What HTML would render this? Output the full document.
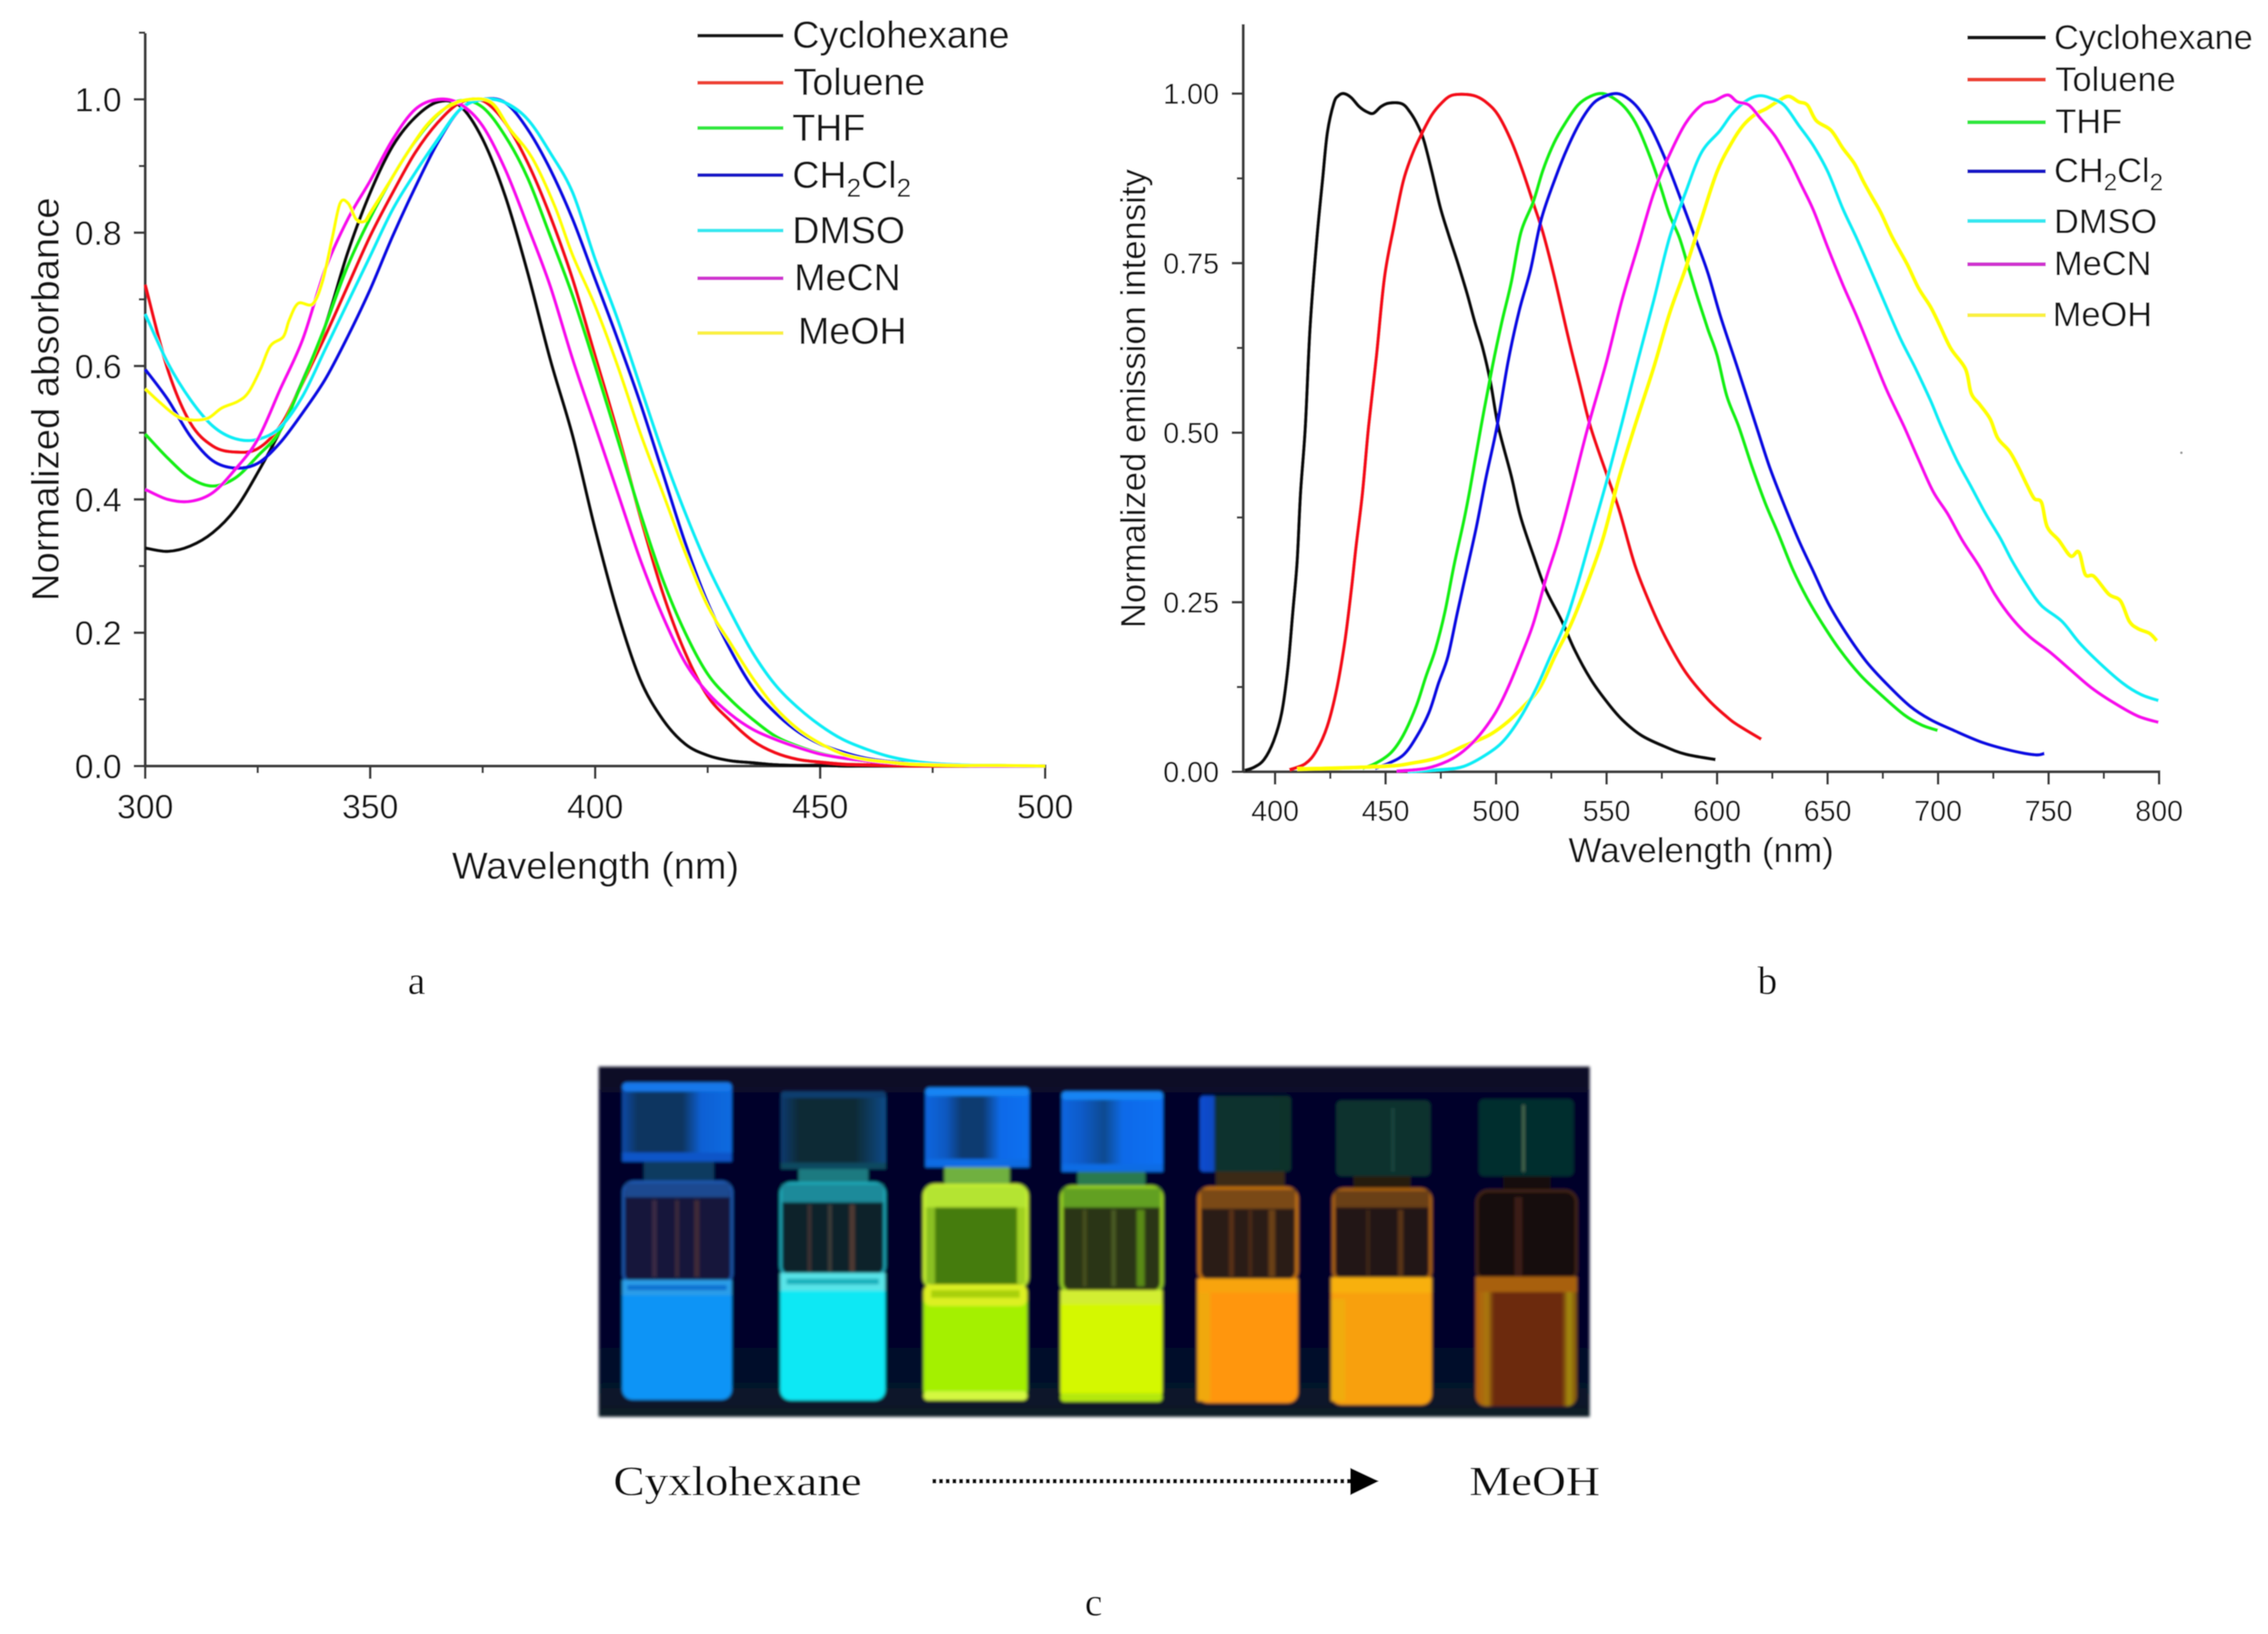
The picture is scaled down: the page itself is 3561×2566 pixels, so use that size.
<!DOCTYPE html>
<html lang="en">
<head>
<meta charset="utf-8">
<title>Absorbance and emission spectra in solvents</title>
<style>
html,body{margin:0;padding:0;background:#fff;}
svg{display:block;}
text{font-family:"Liberation Sans",sans-serif;fill:#141414;}
.serif{font-family:"Liberation Serif",serif;fill:#111;}
</style>
</head>
<body>
<svg id="figure" xmlns="http://www.w3.org/2000/svg" width="3561" height="2566" viewBox="0 0 3561 2566">
<defs>
<filter id="soft" filterUnits="userSpaceOnUse" x="0" y="0" width="3561" height="2566"><feGaussianBlur stdDeviation="0.9"/></filter>
<filter id="photoBlur" filterUnits="userSpaceOnUse" x="900" y="1650" width="1650" height="600"><feGaussianBlur stdDeviation="2.4"/></filter>
<linearGradient id="photoBg" x1="0" x2="0" y1="0" y2="1"><stop offset="0" stop-color="#0a0a26"/><stop offset=".1" stop-color="#05052a"/><stop offset=".8" stop-color="#04062a"/><stop offset="1" stop-color="#081c28"/></linearGradient>
<linearGradient id="capV1" x1="0" x2="1" y1="0" y2="0"><stop offset="0" stop-color="#0a4aa8"/><stop offset=".14" stop-color="#0a3560"/><stop offset=".55" stop-color="#0a3560"/><stop offset=".72" stop-color="#0a60d4"/><stop offset="1" stop-color="#0a6ae0"/></linearGradient>
<linearGradient id="capV2" x1="0" x2="1" y1="0" y2="0"><stop offset="0" stop-color="#0a3a70"/><stop offset=".18" stop-color="#0a2a34"/><stop offset=".7" stop-color="#0a2a34"/><stop offset="1" stop-color="#0a4a88"/></linearGradient>
<linearGradient id="capV3" x1="0" x2="1" y1="0" y2="0"><stop offset="0" stop-color="#0a66e0"/><stop offset=".2" stop-color="#0a58c0"/><stop offset=".35" stop-color="#0a3a70"/><stop offset=".55" stop-color="#0a3a70"/><stop offset=".72" stop-color="#0a6ae8"/><stop offset="1" stop-color="#0a70f0"/></linearGradient>
<linearGradient id="capV4" x1="0" x2="1" y1="0" y2="0"><stop offset="0" stop-color="#0a66e0"/><stop offset=".2" stop-color="#0a5ac8"/><stop offset=".42" stop-color="#0a4a90"/><stop offset=".6" stop-color="#0a6ae8"/><stop offset="1" stop-color="#0a70f4"/></linearGradient>
<linearGradient id="capV5" x1="0" x2="1" y1="0" y2="0"><stop offset="0" stop-color="#0a4cd0"/><stop offset=".15" stop-color="#0a48c0"/><stop offset=".17" stop-color="#07302e"/><stop offset="1" stop-color="#07302c"/></linearGradient>
<linearGradient id="liqV7" x1="0" x2="1" y1="0" y2="0"><stop offset="0" stop-color="#b05a10"/><stop offset=".12" stop-color="#a8780c"/><stop offset=".18" stop-color="#6c2a10"/><stop offset=".85" stop-color="#6c2a10"/><stop offset=".92" stop-color="#a89008"/><stop offset="1" stop-color="#7a4a10"/></linearGradient>
</defs>
<g filter="url(#soft)">
<rect width="3561" height="2566" fill="#fff"/>

<g id="chartA">
<g id="axesA"></g>
<g id="marksA"></g>
<text x="935" y="1380" font-size="59.5" text-anchor="middle">Wavelength (nm)</text>
<text transform="translate(92,627) rotate(-90)" font-size="60" text-anchor="middle">Normalized absorbance</text>
<g id="legendA" font-size="59">
<text x="1244" y="75">Cyclohexane</text>
<text x="1246" y="149">Toluene</text>
<text x="1244" y="221">THF</text>
<text x="1244" y="295">CH<tspan font-size="41" dy="14">2</tspan><tspan dy="-14">Cl</tspan><tspan font-size="41" dy="14">2</tspan></text>
<text x="1244" y="382">DMSO</text>
<text x="1247" y="456">MeCN</text>
<text x="1253" y="540">MeOH</text>
</g>
</g>

<g id="chartB">
<g id="axesB"></g>
<g id="marksB"></g>
<text x="2671" y="1354" font-size="55" text-anchor="middle">Wavelength (nm)</text>
<text transform="translate(1798,626) rotate(-90)" font-size="54.5" text-anchor="middle">Normalized emission intensity</text>
<g id="legendB" font-size="54">
<text x="3225" y="77">Cyclohexane</text>
<text x="3227" y="143">Toluene</text>
<text x="3227" y="209">THF</text>
<text x="3225" y="286">CH<tspan font-size="38" dy="13">2</tspan><tspan dy="-13">Cl</tspan><tspan font-size="38" dy="13">2</tspan></text>
<text x="3225" y="366">DMSO</text>
<text x="3225" y="432">MeCN</text>
<text x="3223" y="512">MeOH</text>
</g>
<circle cx="3425" cy="711" r="2" fill="#999"/>
</g>

<text class="serif" x="654" y="1561" font-size="62" text-anchor="middle">a</text>
<text class="serif" x="2775" y="1561" font-size="62" text-anchor="middle">b</text>

<g filter="url(#photoBlur)">
<rect x="940" y="1675" width="1556" height="550" fill="url(#photoBg)"/>
<g>
<rect x="1011" y="1820" width="110" height="38" fill="#103a60"/>
<rect x="979" y="1856" width="170" height="160" rx="16" fill="#14163a" stroke="#1a58b0" stroke-width="4"/>
<rect x="982" y="1858" width="164" height="22" fill="#1a4a90"/>
<rect x="1024" y="1885" width="7" height="120" fill="#3a2a44"/><rect x="1060" y="1885" width="6" height="120" fill="#3a2a3a"/><rect x="1090" y="1885" width="8" height="120" fill="#402a38"/>
<rect x="977" y="2010" width="172" height="188" rx="16" fill="#0a94f6"/>
<rect x="977" y="2010" width="172" height="24" fill="#2c9ee8"/><rect x="985" y="2018" width="156" height="8" fill="#0e70d0"/>
<rect x="977" y="1700" width="172" height="124" rx="10" fill="url(#capV1)"/>
<rect x="977" y="1700" width="172" height="14" rx="7" fill="#1478ea"/><rect x="977" y="1810" width="172" height="14" fill="#0a55c8"/>
</g>
<g>
<rect x="1254" y="1832" width="109" height="30" fill="#1a7a80"/>
<rect x="1226" y="1858" width="163" height="146" rx="16" fill="#10202c" stroke="#1ea8b8" stroke-width="4"/>
<rect x="1228" y="1860" width="159" height="28" fill="#1a8a9a"/>
<rect x="1268" y="1892" width="6" height="105" fill="#3a3230"/><rect x="1300" y="1892" width="6" height="105" fill="#3a3a38"/><rect x="1334" y="1892" width="8" height="105" fill="#503a30"/>
<rect x="1225" y="1999" width="165" height="200" rx="16" fill="#08e8f4"/>
<rect x="1225" y="1999" width="165" height="28" fill="#58e4e8"/><rect x="1235" y="2008" width="145" height="9" fill="#18b0bc"/>
<rect x="1226" y="1714" width="165" height="122" rx="10" fill="url(#capV2)"/>
<rect x="1226" y="1714" width="165" height="10" rx="5" fill="#0c3c70"/><rect x="1226" y="1826" width="165" height="10" fill="#0a4a60"/>
</g>
<g>
<rect x="1483" y="1830" width="102" height="36" fill="#70b040"/>
<rect x="1452" y="1862" width="160" height="160" rx="16" fill="#447c10" stroke="#c4ee30" stroke-width="6"/>
<rect x="1454" y="1864" width="156" height="32" fill="#b4e430"/>
<rect x="1454" y="1896" width="14" height="120" fill="#8ac020"/><rect x="1597" y="1896" width="13" height="120" fill="#a0d020"/>
<rect x="1450" y="2017" width="163" height="182" rx="16" fill="#a4f000"/>
<rect x="1450" y="2017" width="163" height="34" rx="12" fill="#dcf020"/><rect x="1462" y="2026" width="139" height="12" fill="#a8d010"/>
<rect x="1450" y="2185" width="163" height="14" rx="7" fill="#d4f840"/>
<rect x="1453" y="1708" width="163" height="125" rx="10" fill="url(#capV3)"/>
<rect x="1453" y="1708" width="163" height="13" rx="6" fill="#1884f4"/><rect x="1453" y="1820" width="163" height="13" fill="#0a6ce4"/>
</g>
<g>
<rect x="1692" y="1836" width="106" height="30" fill="#2a7a50"/>
<rect x="1667" y="1864" width="157" height="166" rx="16" fill="#2a3618" stroke="#98d020" stroke-width="5"/>
<rect x="1669" y="1866" width="153" height="30" fill="#62a020"/>
<rect x="1700" y="1900" width="6" height="120" fill="#46501c"/><rect x="1745" y="1900" width="7" height="120" fill="#4a5a20"/><rect x="1785" y="1900" width="12" height="120" fill="#5a8a18"/>
<rect x="1665" y="2026" width="160" height="175" rx="16" fill="#d4f800"/>
<rect x="1665" y="2026" width="160" height="22" fill="#d2ee30"/><rect x="1665" y="2188" width="160" height="13" rx="6" fill="#b4e810"/>
<rect x="1667" y="1714" width="159" height="126" rx="10" fill="url(#capV4)"/>
<rect x="1667" y="1714" width="159" height="13" rx="6" fill="#1484f4"/><rect x="1667" y="1828" width="159" height="12" fill="#0a6ce4"/>
</g>
<g>
<rect x="1909" y="1838" width="108" height="30" fill="#3a2c14"/>
<rect x="1883" y="1866" width="153" height="146" rx="16" fill="#2a1a14" stroke="#c07010" stroke-width="5"/>
<rect x="1885" y="1868" width="149" height="30" fill="#7a4a12"/>
<rect x="1930" y="1900" width="7" height="105" fill="#5a3218"/><rect x="1960" y="1900" width="6" height="105" fill="#4a2c18"/><rect x="1992" y="1900" width="10" height="105" fill="#6a4018"/>
<rect x="1880" y="2008" width="158" height="195" rx="16" fill="#ff9608"/>
<rect x="1880" y="2008" width="158" height="22" fill="#f8a40c"/><rect x="1880" y="2030" width="20" height="170" fill="#f0a80c"/>
<rect x="1884" y="1721" width="143" height="119" rx="6" fill="url(#capV5)"/>
</g>
<g>
<rect x="2125" y="1845" width="90" height="25" fill="#281c10"/>
<rect x="2094" y="1868" width="152" height="144" rx="16" fill="#241414" stroke="#a86010" stroke-width="5"/>
<rect x="2096" y="1870" width="148" height="26" fill="#6a4012"/>
<rect x="2145" y="1900" width="6" height="105" fill="#3e2614"/><rect x="2195" y="1900" width="8" height="105" fill="#5a3416"/>
<rect x="2090" y="2006" width="158" height="200" rx="16" fill="#f8a00a"/>
<rect x="2090" y="2006" width="158" height="24" fill="#f8b010"/><rect x="2090" y="2040" width="22" height="160" fill="#f0ac0a"/>
<rect x="2098" y="1728" width="148" height="119" rx="8" fill="#07302e"/>
<rect x="2185" y="1740" width="4" height="100" fill="#1f4a40"/>
</g>
<g>
<rect x="2360" y="1845" width="75" height="28" fill="#14100c"/>
<rect x="2319" y="1870" width="156" height="142" rx="18" fill="#180c10" stroke="#3e2212" stroke-width="5"/>
<rect x="2378" y="1880" width="12" height="125" fill="#3a1c14"/>
<rect x="2317" y="2005" width="159" height="203" rx="16" fill="url(#liqV7)"/>
<rect x="2317" y="2005" width="159" height="24" fill="#a8600e"/>
<rect x="2322" y="1726" width="149" height="121" rx="8" fill="#062e2e"/>
<rect x="2390" y="1735" width="4" height="105" fill="#4a6a50"/>
</g>
</g>

<text class="serif" x="963" y="2348" font-size="66" textLength="390" lengthAdjust="spacingAndGlyphs">Cyxlohexane</text>
<line x1="1464" y1="2326" x2="2122" y2="2326" stroke="#111" stroke-width="7" stroke-dasharray="6 4.5"/>
<polygon points="2120,2305 2165,2326 2120,2348" fill="#000"/>
<text class="serif" x="2307" y="2348" font-size="66" textLength="205" lengthAdjust="spacingAndGlyphs">MeOH</text>
<text class="serif" x="1717" y="2537" font-size="62" text-anchor="middle">c</text>
</g>
</svg>
<script>
// ---------- Panel a: normalized absorbance ----------
const absWavelengths = [300,305,310,315,320,325,330,335,340,345,350,355,360,365,370,375,380,385,390,395,400,405,410,415,420,425,430,435,440,445,450,455,460,465,470,475,480,485,490,495,500];
const absCyclohexane = [.327,.322,.33,.35,.385,.44,.503,.578,.66,.77,.86,.93,.973,.996,.99,.94,.855,.74,.61,.495,.355,.23,.13,.07,.033,.016,.008,.005,.002,.001,.001,0,0,0,0,0,0,0,0,0,0];
const absToluene = [.722,.595,.515,.48,.471,.476,.51,.575,.645,.72,.795,.86,.92,.965,.995,.998,.965,.905,.825,.73,.615,.50,.375,.26,.17,.105,.068,.038,.02,.01,.006,.003,.002,.001,0,0,0,0,0,0,0];
const absThf = [.498,.462,.432,.42,.432,.465,.503,.577,.66,.75,.822,.884,.937,.977,.998,.988,.945,.882,.795,.705,.60,.49,.38,.28,.2,.138,.1,.07,.045,.03,.019,.012,.008,.005,.003,.002,.001,0,0,0,0];
const absCh2cl2 = [.595,.55,.495,.458,.447,.454,.485,.53,.58,.644,.715,.795,.868,.935,.985,1,.995,.955,.895,.82,.73,.64,.545,.44,.335,.245,.175,.118,.08,.052,.033,.021,.012,.007,.004,.002,.001,0,0,0,0];
const absDmso = [.678,.605,.55,.51,.491,.49,.508,.555,.625,.695,.765,.835,.89,.94,.985,1,.995,.97,.92,.86,.76,.67,.57,.47,.38,.30,.232,.17,.122,.088,.061,.04,.026,.015,.008,.004,.002,.001,.001,0,0];
const absMecn = [.415,.40,.397,.41,.445,.49,.565,.64,.745,.82,.878,.94,.985,1,.993,.96,.895,.81,.72,.61,.51,.41,.31,.225,.155,.11,.078,.055,.04,.028,.018,.012,.008,.005,.003,.002,.001,0,0,0,0];
const absMeohWavelengths = [300,303,307,310.5,314,317,320.6,323,325.6,327.8,330.7,332,334,337.2,339.4,341.5,343.3,345.1,346.9,348.7,350,354,358,362.5,367,372,377,381,386,391,395,400,405,410,415,420,425,430,435,440,445,450,455,460,465,470,480,490,500];
const absMeoh = [.566,.547,.525,.519,.522,.537,.547,.561,.595,.63,.644,.669,.694,.693,.727,.79,.844,.844,.82,.817,.83,.873,.917,.961,.988,1,.995,.956,.912,.84,.766,.69,.60,.50,.41,.32,.24,.185,.132,.088,.056,.034,.018,.01,.006,.003,.001,.001,0];
const absXTicks = [300,350,400,450,500];
const absXMinor = [325,375,425,475];
const absYTicks = ["0.0","0.2","0.4","0.6","0.8","1.0"];
const absYMinor = [0.1,0.3,0.5,0.7,0.9,1.1];

// ---------- Panel b: normalized emission ----------
const emCyclohexaneNm = [386.4,390.7,395,399.3,403,405.8,408,410,411.5,413.7,415.8,418.7,421.6,423.7,426.6,428.7,431.2,434.5,438,441.6,444.5,448,451.7,457.4,461,464.6,467.4,471,474.6,478.2,482.5,486.8,490.4,494,497.5,501,506.9,511,517,522.6,529.8,535.5,542.7,549.9,557,565.6,575.7,585.7,599.3];
const emCyclohexane = [.002,.007,.018,.045,.087,.153,.235,.311,.41,.509,.653,.778,.877,.943,.986,.997,1,.994,.981,.973,.971,.981,.986,.985,.973,.953,.93,.884,.834,.795,.752,.706,.663,.624,.574,.509,.436,.377,.318,.268,.222,.18,.137,.104,.077,.054,.038,.026,.018];
const emTolueneNm = [406.5,413.7,418.7,423.7,428,431.6,434.5,436.6,439.5,442.3,445.9,449.5,453.8,458,462.4,466.7,471,475.3,479.6,485.4,491,496,501,506.9,511.9,516.9,521.2,526.2,532.7,537.7,542.7,549.9,555.6,562.8,570,577,585.7,595.8,604.4,609.8,620];
const emToluene = [.003,.012,.031,.068,.124,.193,.268,.331,.41,.509,.614,.729,.805,.871,.913,.943,.969,.986,.997,.999,.996,.986,.968,.93,.887,.838,.795,.732,.64,.574,.509,.44,.387,.305,.245,.196,.147,.107,.081,.068,.048];
const emThfNm = [439.5,445.2,452.4,458,463.9,468.2,472.5,476.8,481,485.4,488.2,493.2,498.3,502.6,506.9,511.2,516.9,521.2,526.2,531.2,537,542.7,548.4,554.2,559.2,564.2,570,574.3,578.5,582.9,587.2,591.5,595.8,600,604.4,609.8,615.8,621.7,627.7,634.3,640.9,647.5,655.5,664.7,674,684.6,692.5,699.8];
const emThf = [.005,.012,.028,.054,.097,.14,.18,.235,.305,.37,.417,.509,.597,.663,.722,.795,.841,.887,.927,.956,.983,.996,1,.991,.976,.95,.904,.864,.821,.788,.742,.696,.653,.614,.554,.509,.45,.397,.351,.298,.255,.219,.18,.143,.114,.084,.069,.061];
const emCh2cl2Nm = [445.2,451,458.1,463.9,469.6,473.9,478.2,482.5,486.8,491.1,495.4,500.4,505.4,510.4,515.5,520.5,527,532.7,538.4,544.1,549.9,554.9,559.2,564.2,570,577,584.3,590,595.8,601.5,609.1,617.7,623.7,630.3,637,643.6,650.2,658.1,667.4,676.6,687.2,696.5,707.1,720.3,733.5,744.1,748.1];
const emCh2cl2 = [.005,.012,.025,.051,.087,.13,.17,.235,.298,.361,.433,.509,.604,.679,.739,.815,.877,.923,.96,.986,.997,1,.994,.979,.95,.9,.838,.788,.736,.672,.597,.51,.45,.394,.341,.295,.249,.206,.163,.13,.097,.077,.061,.043,.031,.025,.027];
const emDmsoNm = [460,473.9,485.4,496.8,504,511.2,518.3,524,531.2,537,542.7,549.9,557,564.2,571.4,578.5,585.7,592.9,601.2,606.5,611.8,615.8,619.7,623.7,630.3,637,643.6,650.2,656.8,663.4,670,676.6,683.2,689.9,696.5,701.5,708.4,715,721.6,728.2,733.5,740.2,746.8,756,764,773.2,783.8,791.8,799.7];
const emDmso = [0,.003,.008,.028,.048,.081,.124,.166,.219,.278,.344,.427,.515,.607,.696,.788,.854,.913,.945,.969,.986,.994,.997,.994,.983,.953,.923,.884,.831,.785,.736,.686,.637,.594,.548,.509,.46,.42,.38,.344,.311,.275,.245,.222,.19,.16,.13,.114,.105];
const emMecnNm = [455,468.2,478.2,485.4,492.5,499.7,505.4,511.2,516.9,522.6,528.4,534.1,541.3,549.9,557,564.2,571.4,578.5,585.7,592.9,598.6,604.8,609.1,614.4,619.7,626.3,632.9,638.3,643.6,650.2,656.8,663.4,670,676.6,684.6,691.2,697.8,704.4,711,719,725.6,733.5,741.5,750.8,760,769.3,779.9,790.5,799.7];
const emMecn = [.001,.005,.016,.031,.054,.087,.124,.17,.219,.285,.344,.413,.505,.604,.696,.775,.854,.91,.956,.983,.989,.998,.988,.983,.963,.937,.9,.864,.828,.772,.719,.67,.617,.564,.509,.46,.413,.38,.341,.301,.262,.226,.199,.176,.15,.124,.101,.082,.073];
const emMeohNm = [410,449.5,462.4,473.9,485.4,496.8,505.4,512.6,519.8,527,534.1,541.3,548.4,555.6,562.8,571.4,578.5,585.7,592.9,600,606.5,611.8,617.1,622.4,627.7,632.3,636.9,640.9,644.9,651.5,656.8,662.1,666.1,670,674,679.3,685.9,691.2,696.5,700.5,705.8,712.4,715,719,723.6,727,732.2,736.2,740.2,743.5,746.8,749.4,754.7,760,763.7,766.6,770.6,777.2,782.5,786.5,790.5,795.7,799];
const emMeoh = [.004,.008,.013,.021,.038,.054,.074,.097,.124,.173,.219,.278,.344,.433,.51,.597,.676,.742,.815,.885,.927,.953,.969,.978,.989,.996,.988,.983,.96,.946,.92,.897,.871,.848,.825,.788,.749,.713,.686,.66,.624,.594,.558,.541,.52,.492,.473,.45,.423,.403,.397,.361,.341,.318,.324,.291,.288,.262,.252,.222,.211,.204,.193];
const emXTicks = [400,450,500,550,600,650,700,750,800];
const emXMinor = [425,475,525,575,625,675,725,775];
const emYTicks = ["0.00","0.25","0.50","0.75","1.00"];
const emYMinor = [0.125,0.375,0.625,0.875];

const SVGNS = "http://www.w3.org/2000/svg";
const COL = {black:"#0c0c0c",red:"#f4101c",green:"#14f018",blue:"#1010e4",cyan:"#10eef6",magenta:"#f810ee",yellow:"#ffff00"};

function xA(w){ return 228 + (w-300)*(1641-228)/200; }
function yA(v){ return 1203 - v*(1203-156); }
function xB(w){ return 2002 + (w-400)*(3390-2002)/400; }
function yB(v){ return 1212 - v*(1212-147); }

function smoothPath(nm, vals, fx, fy){
  const p = nm.map((w,i)=>[fx(w),fy(vals[i])]);
  let d = "M"+p[0][0].toFixed(1)+" "+p[0][1].toFixed(1);
  for(let i=0;i<p.length-1;i++){
    const a=p[Math.max(i-1,0)],b=p[i],c=p[i+1],e=p[Math.min(i+2,p.length-1)];
    const c1=[b[0]+(c[0]-a[0])/6,b[1]+(c[1]-a[1])/6];
    const c2=[c[0]-(e[0]-b[0])/6,c[1]-(e[1]-b[1])/6];
    d+="C"+c1[0].toFixed(1)+" "+c1[1].toFixed(1)+" "+c2[0].toFixed(1)+" "+c2[1].toFixed(1)+" "+c[0].toFixed(1)+" "+c[1].toFixed(1);
  }
  return d;
}
function drawCurve(parentId, name, nm, vals, fx, fy, color, width){
  const el = document.createElementNS(SVGNS,"path");
  
  
  el.setAttribute("d", smoothPath(nm,vals,fx,fy));
  el.setAttribute("fill","none");
  el.setAttribute("stroke",color);
  el.setAttribute("stroke-width",width);
  el.setAttribute("stroke-linejoin","round");
  document.getElementById(parentId).appendChild(el);
}
function drawLine(parentId, name, x1,y1,x2,y2,color,width){
  const el = document.createElementNS(SVGNS,"line");
  
  
  el.setAttribute("x1",x1); el.setAttribute("y1",y1);
  el.setAttribute("x2",x2); el.setAttribute("y2",y2);
  el.setAttribute("stroke",color); el.setAttribute("stroke-width",width);
  document.getElementById(parentId).appendChild(el);
}
function drawText(parentId, name, x, y, str, size, anchor){
  const el = document.createElementNS(SVGNS,"text");
  
  
  el.setAttribute("x",x); el.setAttribute("y",y);
  el.setAttribute("font-size",size);
  el.setAttribute("text-anchor",anchor);
  el.textContent = str;
  document.getElementById(parentId).appendChild(el);
}
function drawAxes(id, fx, fy, xTicks, xMinor, yTicks, yMinor, o){
  const axisCol = "#3a3a3a";
  drawLine(id,"y-axis",o.left,o.top,o.left,fy(0)+2,axisCol,4.5);
  drawLine(id,"x-axis",o.left,fy(0),fx(xTicks[xTicks.length-1])+2,fy(0),axisCol,4.5);
  xTicks.forEach(t=>{
    drawLine(id,"x-tick",fx(t),fy(0),fx(t),fy(0)+20,axisCol,4);
    drawText(id,"x-tick-label",fx(t),o.xLabelY,String(t),o.tickSize,"middle");
  });
  xMinor.forEach(t=>drawLine(id,"x-minor-tick",fx(t),fy(0),fx(t),fy(0)+11,axisCol,3.5));
  yTicks.forEach(t=>{
    drawLine(id,"y-tick",o.left-18,fy(+t),o.left,fy(+t),axisCol,4);
    drawText(id,"y-tick-label",o.yLabelX,fy(+t)+o.tickSize*0.36,t,o.tickSize,"end");
  });
  yMinor.forEach(t=>drawLine(id,"y-minor-tick",o.left-10,fy(t),o.left,fy(t),axisCol,3.5));
}

drawAxes("axesA",xA,yA,absXTicks,absXMinor,absYTicks,absYMinor,{left:228,top:52,xLabelY:1285,yLabelX:191,tickSize:53});
drawCurve("marksA","abs-cyclohexane",absWavelengths,absCyclohexane,xA,yA,COL.black,5.5);
drawCurve("marksA","abs-toluene",absWavelengths,absToluene,xA,yA,COL.red,5.5);
drawCurve("marksA","abs-thf",absWavelengths,absThf,xA,yA,COL.green,5.5);
drawCurve("marksA","abs-ch2cl2",absWavelengths,absCh2cl2,xA,yA,COL.blue,5.5);
drawCurve("marksA","abs-dmso",absWavelengths,absDmso,xA,yA,COL.cyan,5.5);
drawCurve("marksA","abs-mecn",absWavelengths,absMecn,xA,yA,COL.magenta,5.5);
drawCurve("marksA","abs-meoh",absMeohWavelengths,absMeoh,xA,yA,COL.yellow,5.5);

drawAxes("axesB",xB,yB,emXTicks,emXMinor,emYTicks,emYMinor,{left:1952,top:38,xLabelY:1289,yLabelX:1914,tickSize:45});
drawCurve("marksB","em-cyclohexane",emCyclohexaneNm,emCyclohexane,xB,yB,COL.black,5.5);
drawCurve("marksB","em-toluene",emTolueneNm,emToluene,xB,yB,COL.red,5.5);
drawCurve("marksB","em-thf",emThfNm,emThf,xB,yB,COL.green,5.5);
drawCurve("marksB","em-ch2cl2",emCh2cl2Nm,emCh2cl2,xB,yB,COL.blue,5.5);
drawCurve("marksB","em-meoh",emMeohNm,emMeoh,xB,yB,COL.yellow,6.5);
drawCurve("marksB","em-dmso",emDmsoNm,emDmso,xB,yB,COL.cyan,5.5);
drawCurve("marksB","em-mecn",emMecnNm,emMecn,xB,yB,COL.magenta,5.5);

const legendNames = ["Cyclohexane","Toluene","THF","CH2Cl2","DMSO","MeCN","MeOH"];
const legendColors = ["#161616","#ee4030","#2ee83c","#1616c8","#36e8f0","#d030d0","#faf040"];
const legendRowsA = [56,130,201,275,362,437,523];
const legendRowsB = [59,125,192,269,347,415,495];
legendNames.forEach((n,i)=>{
  drawLine("legendA","legend-a-line",1095,legendRowsA[i],1230,legendRowsA[i],legendColors[i],5.5);
  drawLine("legendB","legend-b-line",3089,legendRowsB[i],3212,legendRowsB[i],legendColors[i],6);
});
</script>
</body>
</html>
